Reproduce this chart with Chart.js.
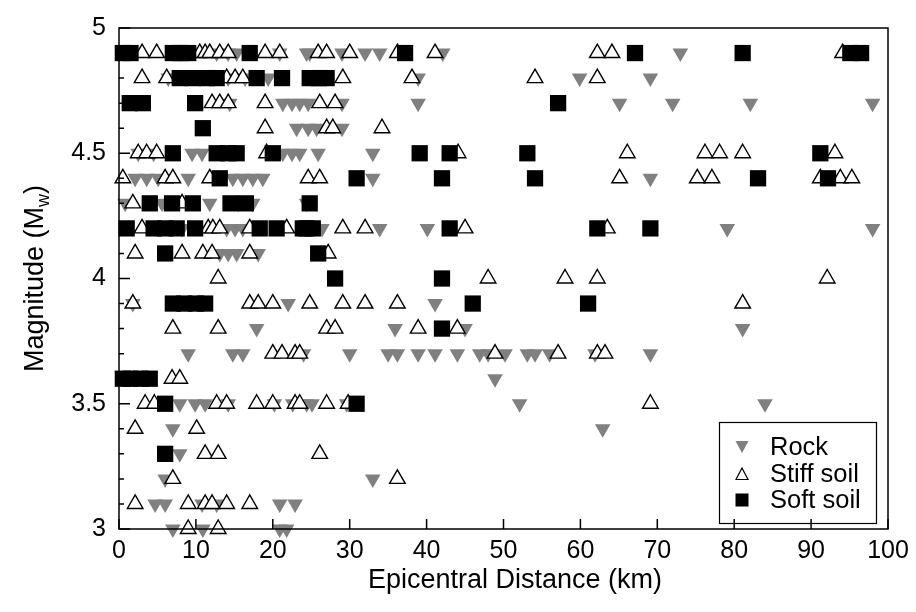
<!DOCTYPE html>
<html>
<head>
<meta charset="utf-8">
<script src="https://cdn.jsdelivr.net/npm/chart.js@4/dist/chart.umd.min.js"></script>
<style>
  body { margin: 0; background: #fff; }
  #wrap { width: 916px; height: 612px; }
</style>
</head>
<body>
<div id="wrap"><canvas id="grafico"></canvas></div>
<script>
// magnitude rows (Mw), one list of epicentral distances (km) per row and site class
const magnitudes = [4.9, 4.8, 4.7, 4.6, 4.5, 4.4, 4.3, 4.2, 4.1, 4.0,
                    3.9, 3.8, 3.7, 3.6, 3.5, 3.4, 3.3, 3.2, 3.1, 3.0];

const rockDist = [
  [12.7, 14.2, 15.3, 20.9, 24.4, 24.8, 29.0, 32.0, 33.9, 42.1, 73.0],
  [6.4, 14.2, 16.4, 19.4, 38.9, 59.9, 69.1],
  [14.4, 21.3, 22.5, 23.5, 24.6, 29.0, 38.9, 65.1, 72.0, 82.1, 98.0],
  [23.1, 24.6, 25.7, 29.0],
  [2.5, 4.5, 9.5, 10.8, 21.3, 22.5, 23.5, 25.9, 33.0],
  [2.1, 3.6, 5.1, 9.0, 14.8, 16.1, 17.4, 18.7, 33.0, 69.1],
  [0.8, 5.6, 11.8, 17.4, 24.4],
  [8.2, 14.0, 15.1, 16.1, 26.4, 33.9, 40.1, 79.1, 98.0],
  [13.1, 14.2, 15.3, 18.1],
  [],
  [1.8, 22.0, 41.1],
  [17.9, 35.9, 45.0, 81.1],
  [9.0, 14.8, 16.1, 24.0, 30.0, 35.0, 36.2, 38.9, 41.1, 44.0, 46.9, 48.0, 50.2, 53.1, 54.1, 56.0, 61.9, 69.1],
  [48.9],
  [7.9, 9.9, 11.2, 14.2, 20.2, 22.6, 24.4, 25.1, 29.6, 52.1, 84.0],
  [7.0, 62.9],
  [7.9],
  [6.0, 33.0],
  [4.7, 6.0, 10.8, 12.7, 20.9, 22.9],
  [7.0, 10.9, 20.9, 21.8]
];

const stiffDist = [
  [3.0, 4.9, 10.5, 11.2, 11.8, 13.1, 14.2, 19.0, 20.9, 25.9, 27.0, 30.0, 36.2, 41.1, 62.2, 64.1, 94.1],
  [3.0, 6.2, 14.0, 15.1, 16.1, 29.1, 38.1, 54.1, 62.2],
  [12.1, 13.1, 14.2, 19.0, 26.1, 28.1],
  [19.0, 27.0, 27.8, 34.2],
  [2.5, 3.6, 4.9, 19.2, 44.1, 66.1, 76.2, 78.1, 81.1, 93.1],
  [0.5, 6.0, 7.0, 11.8, 24.6, 26.1, 65.1, 75.2, 77.1, 91.2, 93.8, 95.3],
  [1.8, 8.2],
  [3.0, 11.6, 12.2, 13.1, 17.0, 21.8, 29.1, 32.0, 45.0, 63.5],
  [2.1, 8.2, 10.9, 12.1, 17.0, 27.2],
  [12.9, 48.0, 58.0, 62.2, 92.1],
  [1.8, 17.0, 18.1, 20.0, 24.8, 29.1, 32.0, 36.2, 81.1],
  [7.0, 12.9, 27.0, 28.1, 38.9, 44.0],
  [20.0, 21.2, 22.9, 23.5, 48.9, 57.1, 62.2, 63.2],
  [6.9, 7.9],
  [3.4, 4.6, 12.7, 14.0, 17.9, 20.0, 22.9, 23.5, 27.0, 29.8, 69.1],
  [2.1, 10.1],
  [11.2, 12.9, 26.1],
  [7.0, 36.2],
  [2.1, 9.0, 11.2, 12.1, 14.0, 17.0],
  [9.0, 12.9]
];

const softDist = [
  [0.5, 1.5, 7.0, 8.0, 9.0, 17.0, 37.2, 67.1, 81.1, 95.1, 96.5],
  [7.9, 9.6, 11.4, 12.7, 17.9, 21.2, 24.8, 26.0, 27.0],
  [1.4, 3.1, 9.9, 57.1],
  [10.9],
  [7.0, 12.7, 14.2, 15.3, 20.0, 39.1, 43.0, 53.1, 91.2],
  [13.1, 30.9, 42.0, 54.1, 83.1, 92.2],
  [4.0, 6.9, 9.6, 14.5, 16.5, 24.8],
  [1.0, 4.5, 6.0, 7.5, 9.9, 18.3, 20.5, 23.9, 24.4, 25.2, 43.0, 62.2, 69.1],
  [6.0, 25.9],
  [28.1, 42.0],
  [7.0, 8.5, 10.0, 11.2, 46.0, 61.0],
  [42.0],
  [],
  [0.5, 1.5, 2.8, 4.0],
  [6.0, 30.9],
  [],
  [6.0],
  [],
  [],
  []
];

const classes = ['Rock', 'Stiff soil', 'Soft soil'];
const xTicks = [0, 100, 10];   // min, max, step
const yTicks = [3, 5, 0.5];

const fonte = '"Liberation Sans", Arial, Helvetica, sans-serif';
const cinza = 'rgb(128,128,128)';

function montarPontos(linhas) {
  const pts = [];
  linhas.forEach(function (linha, i) {
    linha.forEach(function (d) { pts.push({ x: d, y: magnitudes[i] }); });
  });
  return pts;
}

// frame, inward ticks, axis titles (Mw with subscript), boxed legend
const molduraPlugin = {
  id: 'moldura',
  afterDatasetsDraw(chart) {
    const ctx = chart.ctx;
    const a = chart.chartArea;
    const xs = chart.scales.x, ys = chart.scales.y;
    ctx.save();
    ctx.strokeStyle = '#000';
    ctx.lineWidth = 1.5;
    ctx.beginPath();
    for (let v = xTicks[0]; v <= xTicks[1]; v += xTicks[2]) {
      const px = xs.getPixelForValue(v);
      ctx.moveTo(px, a.bottom);
      ctx.lineTo(px, a.bottom - 10);
    }
    for (let i = 0; i <= 20; i++) {
      const py = ys.getPixelForValue(yTicks[0] + i * 0.1);
      const len = i % 5 === 0 ? 11 : 5;
      ctx.moveTo(a.left, py);
      ctx.lineTo(a.left + len, py);
    }
    ctx.stroke();
    ctx.strokeRect(a.left, a.top, a.right - a.left, a.bottom - a.top);

    // x axis title
    ctx.fillStyle = '#000';
    ctx.textBaseline = 'middle';
    ctx.textAlign = 'center';
    ctx.font = '27px ' + fonte;
    ctx.fillText('Epicentral Distance (km)', 515, 581);
    ctx.textAlign = 'left';

    // y axis title
    ctx.translate(36, (a.top + a.bottom) / 2);
    ctx.rotate(-Math.PI / 2);
    const t1 = 'Magnitude (M', t3 = ')';
    const w1 = ctx.measureText(t1).width, w3 = ctx.measureText(t3).width;
    ctx.font = '18px ' + fonte;
    const w2 = ctx.measureText('w').width;
    let x0 = -(w1 + w2 + w3) / 2;
    ctx.font = '27px ' + fonte;
    ctx.fillText(t1, x0, 0);
    ctx.font = '18px ' + fonte;
    ctx.fillText('w', x0 + w1, 8);
    ctx.font = '27px ' + fonte;
    ctx.fillText(t3, x0 + w1 + w2, 0);
    ctx.restore();

    // legend
    ctx.save();
    ctx.strokeStyle = '#000';
    ctx.lineWidth = 1.2;
    ctx.strokeRect(719.5, 422.5, 157, 101);
    const linhasY = [447, 474, 500];
    const mx = 742;
    // Rock
    ctx.fillStyle = cinza;
    ctx.beginPath();
    ctx.moveTo(mx - 6.5, linhasY[0] - 6);
    ctx.lineTo(mx + 6.5, linhasY[0] - 6);
    ctx.lineTo(mx, linhasY[0] + 6);
    ctx.closePath();
    ctx.fill();
    // Stiff soil
    ctx.fillStyle = '#fff';
    ctx.beginPath();
    ctx.moveTo(mx, linhasY[1] - 6);
    ctx.lineTo(mx + 6, linhasY[1] + 5.5);
    ctx.lineTo(mx - 6, linhasY[1] + 5.5);
    ctx.closePath();
    ctx.fill();
    ctx.stroke();
    // Soft soil
    ctx.fillStyle = '#000';
    ctx.fillRect(mx - 6.5, linhasY[2] - 6.5, 13, 13);

    ctx.font = '25.5px ' + fonte;
    ctx.textBaseline = 'middle';
    classes.forEach(function (c, i) { ctx.fillText(c, 770, linhasY[i] + 1); });
    ctx.restore();
  }
};

const config = {
  type: 'scatter',
  data: {
    datasets: [
      {
        label: classes[0],
        data: montarPontos(rockDist),
        pointStyle: 'triangle',
        rotation: 180,
        radius: 9,
        backgroundColor: cinza,
        borderWidth: 0,
        order: 3,
        clip: false
      },
      {
        label: classes[1],
        data: montarPontos(stiffDist),
        pointStyle: 'triangle',
        radius: 9,
        backgroundColor: '#fff',
        borderColor: '#000',
        borderWidth: 1.4,
        order: 2,
        clip: false
      },
      {
        label: classes[2],
        data: montarPontos(softDist),
        pointStyle: 'rect',
        radius: 11.5,
        backgroundColor: '#000',
        borderWidth: 0,
        order: 1,
        clip: false
      }
    ]
  },
  options: {
    responsive: true,
    maintainAspectRatio: false,
    animation: false,
    layout: { padding: { top: 17, right: 28, bottom: 0, left: 0 } },
    plugins: {
      legend: { display: false },
      tooltip: { enabled: false }
    },
    scales: {
      x: {
        type: 'linear',
        min: xTicks[0],
        max: xTicks[1],
        grid: { display: false, drawTicks: false },
        border: { display: false },
        ticks: { stepSize: xTicks[2], padding: 7, color: '#000', font: { family: fonte, size: 25 } },
        afterFit: function (scale) { scale.height = 83; }
      },
      y: {
        type: 'linear',
        min: yTicks[0],
        max: yTicks[1],
        grid: { display: false, drawTicks: false },
        border: { display: false },
        ticks: {
          stepSize: yTicks[2],
          padding: 13,
          color: '#000',
          font: { family: fonte, size: 25 },
          callback: function (v) { return String(+v.toFixed(1)); }
        },
        afterFit: function (scale) { scale.width = 119; }
      }
    }
  },
  plugins: [molduraPlugin]
};

const cof = document.getElementById('grafico').getContext('2d');
window.myChart = new Chart(cof, config);
</script>
</body>
</html>
